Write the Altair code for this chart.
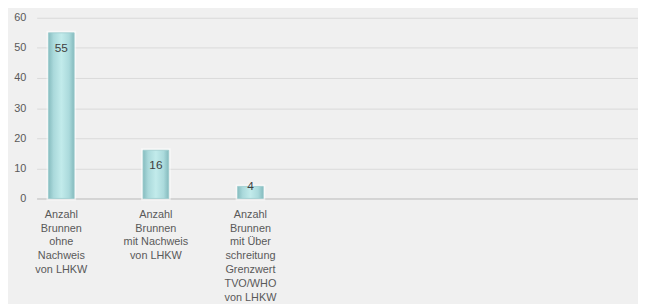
import altair as alt
import pandas as pd

categories = [
    "Anzahl|Brunnen|ohne|Nachweis|von LHKW",
    "Anzahl|Brunnen|mit Nachweis|von LHKW",
    "Anzahl|Brunnen|mit Über|schreitung|Grenzwert|TVO/WHO|von LHKW",
]
values = [55, 16, 4]
y_ticks = [0, 10, 20, 30, 40, 50, 60]
# empty category slots to the right of the bars (as in the original chart area)
empty_slots = [" ", "  ", "   "]

df = pd.DataFrame({"cat": categories, "value": values})

FONT = "Liberation Sans"
LABEL_COLOR = "#595959"

domain = categories + empty_slots
xscale = alt.Scale(domain=domain, paddingInner=0.728, paddingOuter=0.544, align=0.115)
yscale = alt.Scale(domain=[0, 60], nice=False)

x_axis = alt.Axis(
    title=None,
    labelAngle=0,
    labelExpr="split(datum.value, '|')",
    labelFont=FONT,
    labelFontSize=11,
    labelColor=LABEL_COLOR,
    labelLineHeight=14,
    labelPadding=10,
    labelOverlap=False,
    labelLimit=0,
    ticks=False,
    domainColor="#cfcfcf",
    domainWidth=1.5,
    grid=False,
)
y_axis = alt.Axis(
    title=None,
    values=y_ticks,
    grid=True,
    gridColor="#d9d9d9",
    gridWidth=1,
    domain=False,
    ticks=False,
    labelPadding=11,
    labelFont=FONT,
    labelFontSize=11,
    labelColor=LABEL_COLOR,
    labelOverlap=False,
)

x = alt.X("cat:N", scale=xscale, sort=domain, axis=x_axis)
y = alt.Y("value:Q", scale=yscale, axis=y_axis)

base = alt.Chart(df).encode(x=x, y=y)

halo = base.mark_bar(color="#ffffff", opacity=0.55, stroke="#ffffff", strokeWidth=4)

grad = alt.Gradient(
    gradient="linear",
    stops=[
        alt.GradientStop(color="#86bcbf", offset=0),
        alt.GradientStop(color="#aad9db", offset=0.2),
        alt.GradientStop(color="#c2ebeb", offset=0.5),
        alt.GradientStop(color="#abdadc", offset=0.8),
        alt.GradientStop(color="#84babd", offset=1),
    ],
    x1=0, x2=1, y1=0, y2=0,
)
bars = base.mark_bar(color=grad, stroke="#9ccbcd", strokeWidth=0.8)

labels = (
    alt.Chart(df)
    .transform_calculate(lab_y="datum.value >= 10 ? datum.value - 5 : datum.value")
    .mark_text(baseline="middle", align="center", fontSize=12, font=FONT, color="#404040")
    .encode(
        x=x,
        y=alt.Y("lab_y:Q", scale=yscale, axis=y_axis),
        text="value:Q",
    )
)

chart = (
    alt.layer(halo, bars, labels)
    .properties(
        width=609,
        height=183,
        background="#f0f0f0",
        padding={"left": 5, "top": 2, "right": 0, "bottom": 0},
    )
    .configure_view(stroke=None)
)

chart.save("out.html", embed_options={"renderer": "svg", "actions": False})
